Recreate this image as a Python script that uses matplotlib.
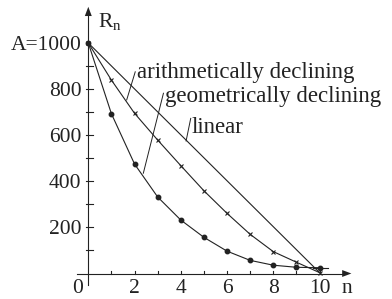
import matplotlib
matplotlib.use("Agg")
import matplotlib.pyplot as plt
from matplotlib.patches import Polygon

# ---- data ----
n_values = [0, 1, 2, 3, 4, 5, 6, 7, 8, 9, 10]
geometric = [1000, 693, 475, 332, 232, 157, 97, 57, 36, 27, 25]
arithmetic = [1000, 839, 695, 579, 468, 359, 261, 170, 95, 49, 4]
linear_n = [0, 10]
linear = [1000, 4]
salvage = 25
x_tick_labels = [0, 2, 4, 6, 8, 10]
y_tick_labels = [200, 400, 600, 800]

plt.rcParams['font.family'] = ['Liberation Serif', 'DejaVu Serif']
plt.rcParams['mathtext.fontset'] = 'custom'
plt.rcParams['mathtext.rm'] = 'Liberation Serif'
plt.rcParams['mathtext.it'] = 'Liberation Serif'

W, H = 392, 299
fig = plt.figure(figsize=(W / 100, H / 100), dpi=100)
ax = fig.add_axes([0, 0, 1, 1])
# pixel mapping: x=0 -> 88.3px, unit 23.12px ; y=0 -> 273.5px, unit 0.2305px
x0p, xs = 88.3, 23.12
y0p, ys = 273.5, 0.2305
ax.set_xlim(-x0p / xs, (W - x0p) / xs)
ax.set_ylim(-(H - y0p) / ys, y0p / ys)
ax.axis('off')

col = '#222222'
lw = 0.8

# axes lines
ax.plot([-0.48, 11.0], [0, 0], color=col, lw=lw)
ax.plot([0, 0], [-50, 1120], color=col, lw=lw)
# arrow heads
ax.add_patch(Polygon([[11.38, 0], [10.98, 15], [10.98, -15]], closed=True, color=col, lw=0))
ax.add_patch(Polygon([[0, 1157], [-0.15, 1117], [0.15, 1117]], closed=True, color=col, lw=0))

# ticks
for i in range(1, 11):
    ax.plot([i, i], [-4, 12], color=col, lw=lw)
for v in range(100, 1000, 100):
    ax.plot([-0.1, 0.2], [v, v], color=col, lw=lw)

# series
ax.plot(linear_n, linear, color=col, lw=lw)
ax.plot(n_values, arithmetic, color=col, lw=lw, marker='x', ms=3, mew=0.8)
ax.plot(n_values, geometric, color=col, lw=lw, marker='o', ms=3.2)
ax.plot([9.7, 10.35], [salvage, salvage], color=col, lw=lw)

fs = 15.5
fa = 16.5
tc = '#222222'
# tick labels
for t in x_tick_labels:
    xpos = t if t != 0 else -0.48
    ax.text(xpos, -86, str(t), ha='center', va='baseline', fontsize=fs, color=tc)
ax.text(11.2, -86, 'n', ha='center', va='baseline', fontsize=fs, color=tc)
for v in y_tick_labels:
    ax.text(-0.3, v - 29, str(v), ha='right', va='baseline', fontsize=fs, color=tc)
ax.text(-0.3, 1000 - 29, 'A=1000', ha='right', va='baseline', fontsize=fs, color=tc)
ax.text(0.4, 1070, r'$\mathregular{R_n}$', ha='left', va='baseline', fontsize=fs, color=tc)

# annotations
ax.text(2.09, 847, 'arithmetically declining', ha='left', va='baseline', fontsize=fa, color=tc)
ax.plot([2.03, 1.66], [875, 753], color=col, lw=0.7)
ax.text(3.32, 745, 'geometrically declining', ha='left', va='baseline', fontsize=fa, color=tc)
ax.plot([3.25, 2.38], [782, 435], color=col, lw=0.7)
ax.text(4.45, 608, 'linear', ha='left', va='baseline', fontsize=fa, color=tc)
ax.plot([4.43, 4.23], [673, 575], color=col, lw=0.7)

fig.savefig('out.png', dpi=100)
